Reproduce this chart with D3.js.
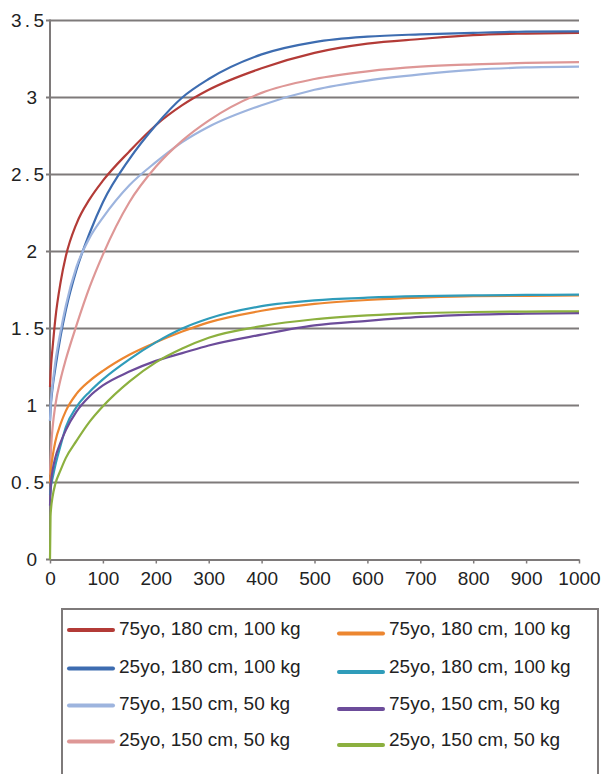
<!DOCTYPE html>
<html>
<head>
<meta charset="utf-8">
<script src="https://cdn.jsdelivr.net/npm/d3@7"></script>
<style>
  html, body { margin: 0; padding: 0; background: #fff; }
  svg { display: block; font-family: "Liberation Sans", Arial, Helvetica, sans-serif; }
</style>
</head>
<body>
<div id="chart"></div>
<script>
// x values (time) shared by every series
const xs = [0, 1, 2, 5, 10, 20, 30, 50, 75, 100, 150, 200, 250, 300, 400, 500, 600, 700, 800, 900, 1000]

const red75Big    = [1.12, 1.2, 1.26, 1.38, 1.56, 1.8, 1.97, 2.18, 2.34, 2.46, 2.65, 2.82, 2.95, 3.05, 3.19, 3.29, 3.35, 3.38, 3.405, 3.415, 3.42]
const blue25Big   = [0.9, 0.97, 1.02, 1.12, 1.24, 1.45, 1.62, 1.88, 2.12, 2.32, 2.6, 2.82, 3.0, 3.12, 3.28, 3.36, 3.395, 3.41, 3.42, 3.428, 3.43]
const lblue75Small = [0.9, 0.98, 1.04, 1.14, 1.28, 1.48, 1.65, 1.9, 2.09, 2.22, 2.43, 2.58, 2.71, 2.81, 2.95, 3.05, 3.11, 3.15, 3.18, 3.195, 3.2]
const pink25Small = [0.55, 0.64, 0.72, 0.86, 1.0, 1.17, 1.3, 1.52, 1.77, 1.98, 2.32, 2.55, 2.72, 2.85, 3.03, 3.12, 3.17, 3.2, 3.215, 3.225, 3.23]
const orange75Big = [0.5, 0.55, 0.59, 0.67, 0.765, 0.88, 0.965, 1.075, 1.16, 1.225, 1.33, 1.41, 1.48, 1.54, 1.615, 1.66, 1.685, 1.7, 1.71, 1.712, 1.715]
const teal25Big   = [0.42, 0.45, 0.48, 0.53, 0.61, 0.74, 0.86, 0.99, 1.09, 1.17, 1.3, 1.41, 1.5, 1.565, 1.645, 1.683, 1.7, 1.71, 1.715, 1.718, 1.72]
const purple75Small = [0.35, 0.43, 0.5, 0.58, 0.66, 0.76, 0.84, 0.96, 1.06, 1.13, 1.22, 1.29, 1.34, 1.39, 1.46, 1.52, 1.55, 1.575, 1.59, 1.597, 1.6]
const green25Small = [0, 0.28, 0.33, 0.41, 0.49, 0.58, 0.66, 0.77, 0.895, 0.995, 1.155, 1.28, 1.37, 1.44, 1.515, 1.56, 1.585, 1.6, 1.607, 1.61, 1.612]

const xTicks = [0, 100, 200, 300, 400, 500, 600, 700, 800, 900, 1000]
const yTicks = [0, 0.5, 1, 1.5, 2, 2.5, 3, 3.5]

const series = [
  { label: "75yo, 180 cm, 100 kg", color: "#b33b37", values: red75Big },
  { label: "25yo, 180 cm, 100 kg", color: "#3d6cb0", values: blue25Big },
  { label: "75yo, 150 cm, 50 kg", color: "#9db4de", values: lblue75Small },
  { label: "25yo, 150 cm, 50 kg", color: "#de9796", values: pink25Small },
  { label: "75yo, 180 cm, 100 kg", color: "#ec8630", values: orange75Big },
  { label: "25yo, 180 cm, 100 kg", color: "#2f9cba", values: teal25Big },
  { label: "75yo, 150 cm, 50 kg", color: "#6c4c9a", values: purple75Small },
  { label: "25yo, 150 cm, 50 kg", color: "#8cb03f", values: green25Small }
]

const width = 606
const height = 774
const gridColor = "#7e7a7a"

const svg = d3.select("#chart")
  .append("svg")
  .attr("width", width)
  .attr("height", height)

const x = d3.scaleLinear().domain([0, 1000]).range([50, 579])
const y = d3.scaleLinear().domain([0, 3.5]).range([559.5, 20.5])

// horizontal gridlines (they poke out left of the axis like ticks)
svg.append("g")
  .selectAll("line")
  .data(yTicks.filter(d => d > 0))
  .enter()
  .append("line")
  .attr("x1", 46)
  .attr("x2", x(1000))
  .attr("y1", d => y(d))
  .attr("y2", d => y(d))
  .attr("stroke", gridColor)
  .attr("stroke-width", 2)

// y axis line
svg.append("line")
  .attr("x1", x(0)).attr("x2", x(0))
  .attr("y1", y(3.5) - 1).attr("y2", y(0))
  .attr("stroke", gridColor)
  .attr("stroke-width", 2)

// x axis
const xAxis = d3.axisBottom(x)
  .tickValues(xTicks)
  .tickFormat(d3.format("d"))
  .tickSize(4)
  .tickSizeOuter(0)
  .tickPadding(8)

const gx = svg.append("g")
  .attr("transform", `translate(0,${y(0)})`)
  .call(xAxis)

gx.select(".domain").attr("stroke", gridColor).attr("stroke-width", 2)
gx.selectAll(".tick line").attr("stroke", gridColor).attr("stroke-width", 1.5)
gx.selectAll(".tick text")
  .attr("fill", "#222")
  .attr("font-size", 19)
  .attr("font-family", "Liberation Sans, Arial, sans-serif")

// small tick left of origin
svg.append("line")
  .attr("x1", 46).attr("x2", x(0))
  .attr("y1", y(0)).attr("y2", y(0))
  .attr("stroke", gridColor)
  .attr("stroke-width", 2)

// y tick labels; the half-step labels are a bit spread out in the original
svg.append("g")
  .selectAll("text")
  .data(yTicks)
  .enter()
  .append("text")
  .attr("x", d => Number.isInteger(d) ? 37 : 11)
  .attr("y", d => y(d) + 6.5)
  .attr("text-anchor", d => Number.isInteger(d) ? "end" : "start")
  .attr("textLength", d => Number.isInteger(d) ? null : 33)
  .attr("lengthAdjust", "spacing")
  .attr("font-size", 19)
  .attr("fill", "#222")
  .text(d => d)

// curves
const line = d3.line()
  .x((d, i) => x(xs[i]))
  .y(d => y(d))
  .curve(d3.curveMonotoneX)

svg.append("g")
  .selectAll("path")
  .data(series)
  .enter()
  .append("path")
  .attr("d", d => line(d.values))
  .attr("fill", "none")
  .attr("stroke", d => d.color)
  .attr("stroke-width", 2.2)

// legend
svg.append("rect")
  .attr("x", 62)
  .attr("y", 609)
  .attr("width", 536)
  .attr("height", 220)
  .attr("fill", "none")
  .attr("stroke", gridColor)
  .attr("stroke-width", 2)

const rowBase = [634.5, 673, 710, 746]

const legend = svg.append("g")
  .selectAll("g")
  .data(series)
  .enter()
  .append("g")
  .attr("transform", (d, i) => {
    const col = Math.floor(i / 4)
    return `translate(${col === 0 ? 69 : 339},${rowBase[i % 4]})`
  })

legend.append("line")
  .attr("x1", 0)
  .attr("x2", 44)
  .attr("y1", (d, i) => i < 4 ? -4.5 : -1)
  .attr("y2", (d, i) => i < 4 ? -4.5 : -1)
  .attr("stroke", d => d.color)
  .attr("stroke-width", 4)
  .attr("stroke-linecap", "round")

legend.append("text")
  .attr("x", 50)
  .attr("y", 0)
  .attr("font-size", 19)
  .attr("fill", "#222")
  .text(d => d.label)
</script>
</body>
</html>
